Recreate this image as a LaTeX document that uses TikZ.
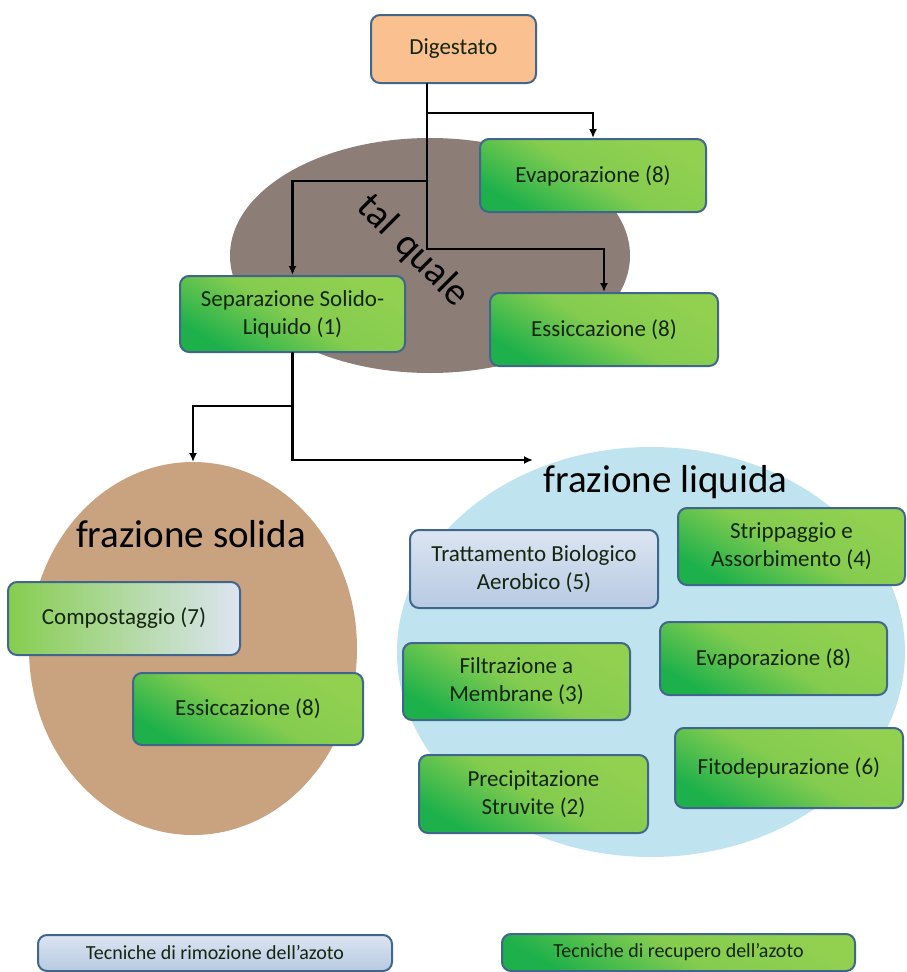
\documentclass[tikz,border=0pt]{standalone}
\usepackage{fontspec}
\setmainfont{Carlito}
\usetikzlibrary{arrows.meta}

\definecolor{bord}{HTML}{41668C}
\definecolor{grL}{HTML}{92D050}
\definecolor{grD}{HTML}{1DB04B}
\definecolor{bluL}{HTML}{DCE5F2}
\definecolor{bluD}{HTML}{B7C9E2}
\definecolor{peach}{HTML}{FAC090}
\definecolor{stone}{HTML}{8C7E76}
\definecolor{sand}{HTML}{C9A27F}
\definecolor{water}{HTML}{BFE4EF}
\definecolor{txt}{HTML}{14260F}

\begin{document}
\begin{tikzpicture}[x=1pt, y=-1pt, line cap=round,
    box/.style={draw=bord, line width=2pt, rounded corners=9pt, align=center, inner sep=0pt, text=txt, font=\fontsize{23}{28}\selectfont},
    rec/.style={box, top color=grL, bottom color=grD, middle color=grL!88!grD, shading angle=-30},
    rim/.style={box, top color=bluL, bottom color=bluD},
    conn/.style={line width=2.4pt, -{Latex[length=9pt, width=8pt]}},
    big/.style={font=\fontsize{39}{40}\selectfont, inner sep=0pt, text=black}]

    \useasboundingbox (0,0) rectangle (906,972);

    \fill[stone] (430,255.5) ellipse [x radius=200, y radius=117.5];
    \fill[sand] (193,648.5) ellipse [x radius=164, y radius=186.5];
    \fill[water] (651,652) ellipse [x radius=254, y radius=205];

    \node[big, rotate=-45] (talq) at (413,251) {tal\,\,quale};
    \node[big, anchor=base] (solT) at (191,547) {frazione solida};
    \node[big, anchor=base] (liqT) at (665.5,492) {frazione liquida};

    \node[box, fill=peach, minimum width=165pt, minimum height=68pt] (dig) at (453.5,49) {Digestato};
    \node[rec, minimum width=226pt, minimum height=73pt] (evapT) at (593,175.5) {Evaporazione (8)};
    \node[rec, minimum width=228pt, minimum height=73pt] (essT) at (604,329.5) {Essiccazione (8)};
    \node[rec, minimum width=225pt, minimum height=76pt] (sep) at (292.5,314) {Separazione Solido-\\Liquido (1)};

    \node[box, left color=grL!90!grD, right color=bluL, minimum width=232pt, minimum height=73pt] (comp) at (124,618.5) {Compostaggio (7)};
    \node[rec, minimum width=230pt, minimum height=72pt] (essS) at (248,709) {Essiccazione (8)};

    \node[rim, minimum width=248pt, minimum height=78pt] (tratt) at (534,569) {Trattamento Biologico\\Aerobico (5)};
    \node[rec, minimum width=227pt, minimum height=77pt] (strip) at (791.5,546.5) {Strippaggio e\\Assorbimento (4)};
    \node[rec, minimum width=227pt, minimum height=77pt] (filt) at (516.5,681.5) {Filtrazione a\\Membrane (3)};
    \node[rec, minimum width=227pt, minimum height=73pt] (evapL) at (773.5,658.5) {Evaporazione (8)};
    \node[rec, minimum width=229pt, minimum height=78pt] (prec) at (533.5,794) {Precipitazione\\Struvite (2)};
    \node[rec, minimum width=228pt, minimum height=80pt] (fito) at (789,768) {Fitodepurazione (6)};

    \node[rim, font=\fontsize{20}{24}\selectfont, minimum width=354pt, minimum height=36pt] (legR) at (215,953) {Tecniche di rimozione dell'azoto};
    \node[rec, font=\fontsize{20}{24}\selectfont, minimum width=353pt, minimum height=37pt] (legG) at (678.5,952.5) {Tecniche di recupero dell'azoto};

    \coordinate (t0) at (dig.south -| 427,0);
    \coordinate (solin) at (193,462);
    \coordinate (liqin) at (533,460);
    \draw[conn] (t0) ++(0,29) -| (evapT.north);
    \draw[conn] (t0) ++(0,97) -| (sep.north);
    \draw[conn] (t0) -- ++(0,165) -| (essT.north);
    \draw[conn] (sep.south) -- ++(0,53) -| (solin);
    \draw[conn] (sep.south) ++(0,53) |- (liqin);
\end{tikzpicture}
\end{document}
